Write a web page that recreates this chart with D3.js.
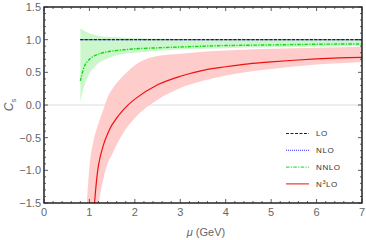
<!DOCTYPE html>
<meta charset="utf-8">
<style>
body { margin: 0; background: #fff; }
text { font-family: "Liberation Sans", Arial, sans-serif; }
</style>
<body>
<svg id="chart" width="366" height="240"></svg>
</body>
<script src="https://d3js.org/d3.v7.min.js"></script>
<script>

// mu grid (GeV) and curves
var mu      = [0.8, 0.9, 1.0, 1.1, 1.2, 1.3, 1.4, 1.5, 1.75, 2, 2.5, 3, 3.5, 4, 4.5, 5, 5.5, 6, 6.5, 7];
var lo      = [1, 1, 1, 1, 1, 1, 1, 1, 1, 1, 1, 1, 1, 1, 1, 1, 1, 1, 1, 1];
var nlo     = [1, 1, 1, 1, 1, 1, 1, 1, 1, 1, 1, 1, 1, 1, 1, 1, 1, 1, 1, 1];
var nnlo    = [0.37, 0.61, 0.70, 0.75, 0.78, 0.80, 0.815, 0.825, 0.845, 0.86, 0.875, 0.888, 0.90, 0.91, 0.915, 0.92, 0.925, 0.93, 0.933, 0.935];
var nnloHi  = [1.17, 1.13, 1.10, 1.08, 1.06, 1.05, 1.045, 1.04, 1.03, 1.02, 1.015, 1.01, 1.005, 1.003, 1.002, 1.0, 1.0, 1.0, 1.0, 1.0];
var nnloLo  = [0.05, 0.32, 0.48, 0.57, 0.64, 0.68, 0.71, 0.74, 0.78, 0.80, 0.83, 0.85, 0.86, 0.87, 0.88, 0.885, 0.89, 0.895, 0.90, 0.905];
var n3lo    = [null, null, -3.2, -1.62, -0.92, -0.63, -0.44, -0.30, -0.07, 0.09, 0.31, 0.44, 0.53, 0.585, 0.63, 0.66, 0.685, 0.705, 0.72, 0.73];
var n3loHi  = [null, -2.0, -0.95, -0.52, -0.28, -0.08, 0.12, 0.24, 0.45, 0.61, 0.75, 0.785, 0.815, 0.835, 0.85, 0.86, 0.87, 0.878, 0.885, 0.89];
var n3loLo  = [null, -4.0, -3.0, -2.1, -1.52, -1.15, -0.90, -0.75, -0.42, -0.20, 0.08, 0.26, 0.37, 0.45, 0.51, 0.55, 0.59, 0.62, 0.64, 0.66];

var xTicks = [0, 1, 2, 3, 4, 5, 6, 7];
var yTicks = [-1.5, -1.0, -0.5, 0.0, 0.5, 1.0, 1.5];
var legendNames = ["LO", "NLO", "NNLO", "N3LO"];

var svg = d3.select("#chart"),
    margin = {top: 7, right: 4, bottom: 37, left: 44},
    width = +svg.attr("width") - margin.left - margin.right,
    height = +svg.attr("height") - margin.top - margin.bottom,
    g = svg.append("g").attr("transform", "translate(" + margin.left + "," + margin.top + ")");

var x = d3.scaleLinear().domain([0, 7]).range([0, width]);
var y = d3.scaleLinear().domain([-1.5, 1.5]).range([height, 0]);

g.append("clipPath").attr("id", "clip")
  .append("rect").attr("width", width).attr("height", height);

var plot = g.append("g").attr("clip-path", "url(#clip)");

// zero line
plot.append("line")
    .attr("x1", 0).attr("x2", width)
    .attr("y1", y(0)).attr("y2", y(0))
    .attr("stroke", "#dcdcdc").attr("stroke-width", 1);

var smooth = d3.curveCatmullRom.alpha(0.5);

function band(lower, upper) {
  return d3.area()
    .defined(function(d, i) { return lower[i] != null && upper[i] != null; })
    .x(function(d) { return x(d); })
    .y0(function(d, i) { return y(lower[i]); })
    .y1(function(d, i) { return y(upper[i]); })
    .curve(d3.curveMonotoneX)(mu);
}
function line(vals) {
  return d3.line()
    .defined(function(d, i) { return vals[i] != null; })
    .x(function(d) { return x(d); })
    .y(function(d, i) { return y(vals[i]); })
    .curve(smooth)(mu);
}

plot.append("path").attr("d", band(n3loLo, n3loHi)).attr("fill", "#ffcccc");
plot.append("path").attr("d", band(nnloLo, nnloHi)).attr("fill", "#ccf7cc");

var styles = [
  {vals: lo,   color: "#222",    dash: "3,1.5", w: 1.3},
  {vals: nlo,  color: "#3030ff", dash: "1,1",   w: 1.3},
  {vals: nnlo, color: "#14d814", dash: "3.5,1.3,1.2,1.3", w: 1.4},
  {vals: n3lo, color: "#f01010", dash: null,    w: 1.2}
];

plot.selectAll(".curve")
  .data(styles.slice().reverse())
  .enter().append("path")
    .attr("class", "curve")
    .attr("d", function(d) { return line(d.vals); })
    .attr("fill", "none")
    .attr("stroke", function(d) { return d.color; })
    .attr("stroke-width", function(d) { return d.w; })
    .attr("stroke-dasharray", function(d) { return d.dash; });

// frame with inward ticks
g.append("rect").attr("width", width).attr("height", height)
  .attr("fill", "none").attr("stroke", "#000").attr("stroke-width", 1.3);

var xMinor = d3.range(0, 7.001, 0.2), yMinor = d3.range(-1.5, 1.501, 0.1);
function isMajor(v, list) { return list.some(function(t) { return Math.abs(t - v) < 1e-6; }); }

var ticks = g.append("g").attr("stroke", "#333").attr("stroke-width", 0.8);
xMinor.forEach(function(v) {
  var len = isMajor(v, xTicks) ? 4 : 2;
  ticks.append("line").attr("x1", x(v)).attr("x2", x(v)).attr("y1", height).attr("y2", height - len);
  ticks.append("line").attr("x1", x(v)).attr("x2", x(v)).attr("y1", 0).attr("y2", len);
});
yMinor.forEach(function(v) {
  var len = isMajor(v, yTicks) ? 4 : 2;
  ticks.append("line").attr("y1", y(v)).attr("y2", y(v)).attr("x1", 0).attr("x2", len);
  ticks.append("line").attr("y1", y(v)).attr("y2", y(v)).attr("x1", width).attr("x2", width - len);
});

g.selectAll(".xlab").data(xTicks).enter().append("text")
  .attr("x", function(d) { return x(d); })
  .attr("y", height + 13)
  .attr("text-anchor", "middle")
  .attr("font-size", 11).attr("fill", "#666")
  .text(function(d) { return d; });

g.selectAll(".ylab").data(yTicks).enter().append("text")
  .attr("x", -3)
  .attr("y", function(d) { return y(d); })
  .attr("dy", "0.36em")
  .attr("text-anchor", "end")
  .attr("font-size", 11).attr("fill", "#666")
  .text(function(d) { return d3.format(".1f")(d).replace("-", "\u2212"); });

svg.append("text")
  .attr("x", 206).attr("y", 236)
  .attr("text-anchor", "middle")
  .attr("font-size", 11).attr("fill", "#666")
  .html('<tspan font-style="italic">\u03bc</tspan> (GeV)');

svg.append("text")
  .attr("transform", "translate(13,105) rotate(-90)")
  .attr("text-anchor", "middle")
  .attr("font-size", 12).attr("fill", "#666")
  .html('<tspan font-style="italic">C</tspan><tspan font-size="7.5" dy="2.5">s</tspan>');

// legend
var legend = svg.selectAll(".legend")
  .data(styles)
  .enter().append("g")
    .attr("class", "legend")
    .attr("transform", function(d, i) { return "translate(286," + (133.5 + i * 16.8) + ")"; });

legend.append("line")
  .attr("x1", 0).attr("x2", 23)
  .attr("stroke", function(d) { return d.color; })
  .attr("stroke-width", 1)
  .attr("stroke-dasharray", function(d) { return d.dash; });

legend.append("text")
  .attr("x", 30).attr("dy", "0.35em")
  .attr("font-size", 8).attr("fill", "#333")
  .attr("letter-spacing", 0.6)
  .each(function(d, i) {
    var t = d3.select(this), name = legendNames[i];
    if (name === "N3LO") {
      t.append("tspan").text("N");
      t.append("tspan").attr("font-size", 5.5).attr("dy", -3).text("3");
      t.append("tspan").attr("dy", 3).text("LO");
    } else {
      t.text(name);
    }
  });

</script>
</body>
</html>
